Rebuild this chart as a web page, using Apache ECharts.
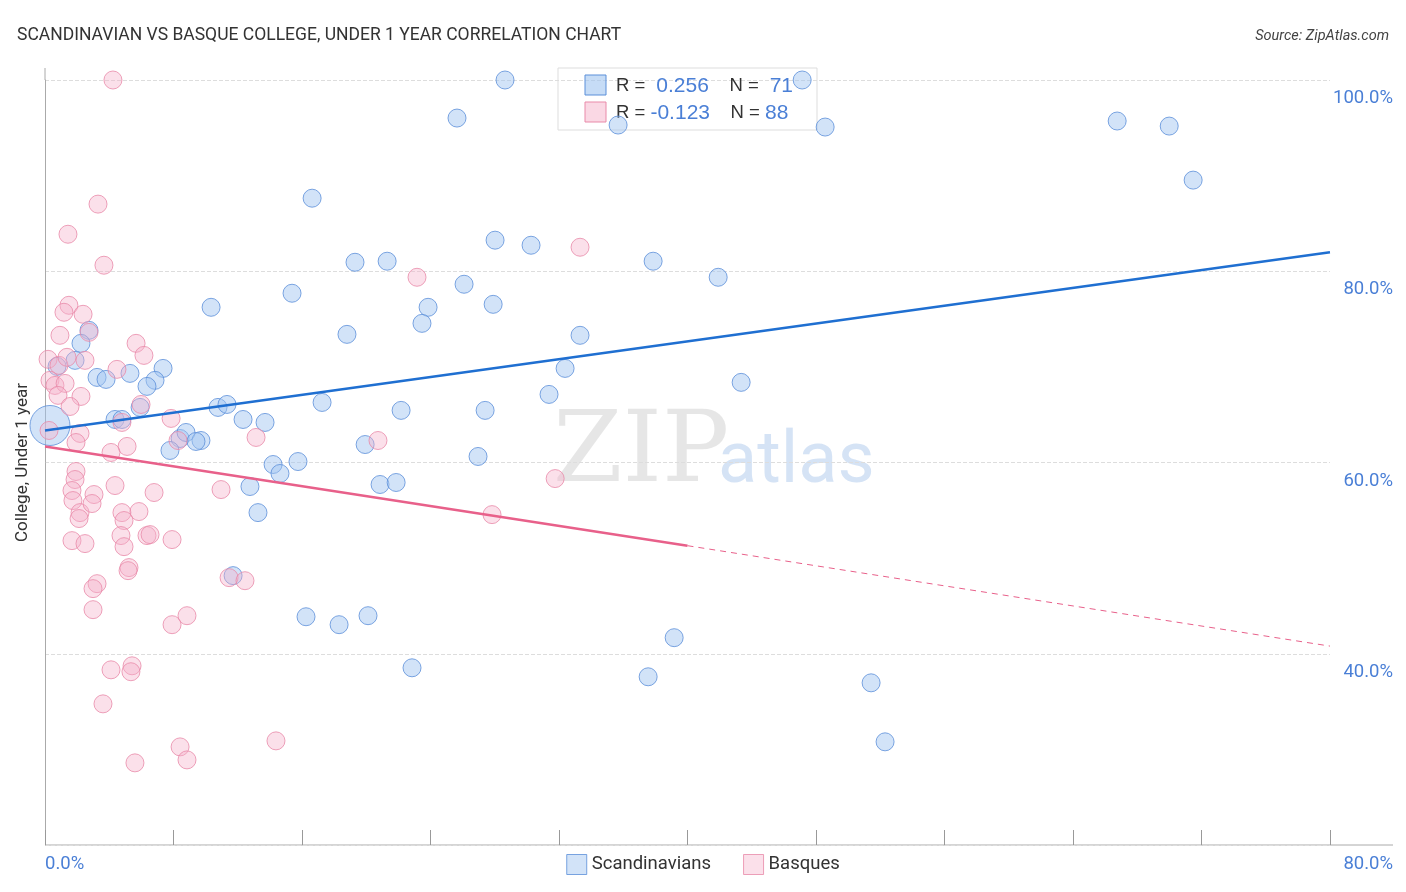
<!DOCTYPE html>
<html>
<head>
<meta charset="utf-8">
<script src="https://cdn.jsdelivr.net/npm/echarts@6/dist/echarts.min.js"></script>
<style>html,body{margin:0;padding:0;background:#fff}#main{width:1406px;height:892px}</style>
</head>
<body>
<div id="main"></div>
<script>
// 斯堪的纳维亚人 (x: %, y: %)
var scandinavians = [
	[28.64,100.0],[47.14,100.0],[25.65,96.02],[35.68,95.29],[48.57,95.08],[66.75,95.71],[69.99,95.18],[71.48,89.53],
	[16.63,87.64],[28.02,83.25],[30.26,82.72],[19.30,80.94],[21.30,81.05],[37.86,81.05],[41.91,79.37],[10.34,76.23],
	[15.38,77.70],[26.09,78.64],[27.90,76.54],[23.85,76.23],[23.47,74.55],[18.80,73.40],[33.31,73.30],[2.74,73.82],
	[2.24,72.46],[1.87,70.68],[0.75,70.05],[3.24,68.90],[3.80,68.69],[5.29,69.32],[7.35,69.84],[6.85,68.59],
	[6.35,67.96],[5.92,65.76],[10.77,65.76],[11.33,66.07],[12.33,64.50],[13.70,64.19],[22.17,65.45],[27.40,65.45],
	[17.25,66.28],[31.38,67.12],[32.38,69.84],[43.34,68.38],[4.36,64.50],[4.79,64.50],[8.41,62.51],[8.78,63.14],
	[9.71,62.30],[9.40,62.20],[7.78,61.26],[19.93,61.88],[26.96,60.63],[14.20,59.79],[15.75,60.10],[14.63,58.85],
	[12.76,57.49],[20.86,57.70],[21.86,57.91],[13.26,54.76],[11.71,48.17],[16.25,43.87],[18.31,43.04],[20.11,43.98],
	[39.17,41.68],[22.85,38.53],[37.55,37.59],[51.43,36.96],[52.30,30.79]
];
var scandinaviansBig = [[0.31,63.87]];
// 巴斯克人
var basques = [
	[4.23,100],[3.30,87.02],[1.43,83.87],[3.67,80.63],[33.31,82.51],[23.16,79.37],[1.49,76.44],[1.18,75.71],
	[2.37,75.50],[0.93,73.30],[2.74,73.61],[5.67,72.46],[6.16,71.20],[0.19,70.79],[0.87,70.16],[1.37,71.00],
	[2.49,70.68],[4.48,69.74],[0.31,68.59],[0.62,68.06],[1.25,68.27],[0.81,67.02],[2.24,66.91],[1.56,65.86],
	[5.98,66.07],[7.85,64.61],[4.79,64.19],[0.25,63.35],[2.18,63.04],[1.93,62.09],[8.28,62.30],[13.14,62.62],
	[20.73,62.30],[5.11,61.68],[4.11,61.05],[1.93,59.06],[1.87,58.22],[1.68,57.07],[1.74,56.02],[6.79,56.86],
	[10.96,57.17],[3.05,56.65],[4.36,57.59],[2.18,54.76],[2.12,54.14],[4.79,54.76],[5.85,54.87],[4.92,53.93],
	[2.93,55.71],[6.35,52.36],[4.73,52.36],[6.54,52.46],[7.91,51.94],[1.68,51.83],[2.49,51.52],[4.92,51.20],
	[5.23,49.01],[5.17,48.69],[31.76,58.32],[27.83,54.55],[3.24,47.33],[2.99,46.81],[11.46,47.96],[12.45,47.64],
	[2.99,44.61],[8.84,43.98],[7.91,43.04],[5.42,38.74],[4.11,38.32],[5.35,38.12],[3.61,34.76],[8.41,30.26],
	[8.84,28.90],[14.38,30.89],[5.60,28.59]
];
// 趋势线
var blueTrend = [[0, 63.35], [80, 81.99]];
var pinkTrendSolid = [[0, 61.68], [40, 51.3]];
var pinkTrendDashed = [[40, 51.3], [80, 40.8]];
var yTicks = [20, 40, 60, 80, 100];

var blueEdge = '#5b8fd9', blueFill = 'rgba(160,196,240,0.6)';
var pinkEdge = '#e98aa9', pinkFill = 'rgba(246,178,202,0.5)';

var myChart = echarts.init(document.getElementById('main'));
var option = {
	animation: false,
	textStyle: { fontFamily: 'Roboto, "Open Sans", sans-serif' },
	title: [{
		text: 'SCANDINAVIAN VS BASQUE COLLEGE, UNDER 1 YEAR CORRELATION CHART',
		left: 12, top: 22,
		textStyle: { fontSize: 17.5, fontWeight: 'normal', color: '#333' }
	}, {
		text: 'Source: ZipAtlas.com',
		right: 12, top: 24,
		textStyle: { fontSize: 14.5, fontWeight: 'normal', fontStyle: 'italic', color: '#444' }
	}],
	grid: { left: 45, right: 76, top: 80, bottom: 47 },
	legend: {
		bottom: 12, left: 'center', itemGap: 32,
		itemWidth: 20, itemHeight: 20,
		textStyle: { fontSize: 18.5, color: '#333' },
		data: [
			{ name: 'Scandinavians', icon: 'rect', itemStyle: { color: blueFill, borderColor: blueEdge, borderWidth: 1 } },
			{ name: 'Basques', icon: 'rect', itemStyle: { color: pinkFill, borderColor: pinkEdge, borderWidth: 1 } }
		]
	},
	xAxis: {
		type: 'value', min: 0, max: 80, interval: 8,
		axisLine: { show: false },
		axisTick: { show: true, inside: true, length: 15, lineStyle: { color: '#999' } },
		splitLine: { show: false },
		axisLabel: {
			fontSize: 18, color: '#4a7fd6', margin: 10,
			showMinLabel: true, showMaxLabel: true, alignMinLabel: 'left', alignMaxLabel: 'right',
			formatter: function (v) {
				if (v === 0) return '{l|0.0%}';
				if (v === 80) return '{r|80.0%}';
				return '';
			},
			rich: { l: { fontSize: 18.5, color: '#4a7fd6' }, r: { fontSize: 18.5, color: '#4a7fd6', padding: [0, -63, 0, 0] } }
		}
	},
	yAxis: [{
		type: 'value', min: 20, max: 100, interval: 20, position: 'left',
		name: 'College, Under 1 year', nameLocation: 'middle', nameGap: 14,
		nameTextStyle: { fontSize: 17, color: '#333' },
		axisLine: { show: true, lineStyle: { color: '#aaa' } },
		axisTick: { show: false }, axisLabel: { show: false },
		splitLine: { show: true, lineStyle: { color: '#ddd', type: 'dashed' } }
	}, {
		type: 'value', min: 20, max: 100, interval: 20, position: 'right',
		axisLine: { show: false }, axisTick: { show: false }, splitLine: { show: false },
		axisLabel: {
			fontSize: 18.5, color: '#4a7fd6', align: 'right', margin: 63, verticalAlign: 'top', padding: [9, 0, 0, 0],
			formatter: function (v) { return yTicks.indexOf(v) > 0 ? v.toFixed(1) + '%' : ''; }
		}
	}],
	graphic: [
		{ type: 'line', shape: { x1: 45, y1: 845, x2: 1393, y2: 845 }, style: { stroke: '#aaa', lineWidth: 1 } },
		{ type: 'line', shape: { x1: 45, y1: 68, x2: 45, y2: 80 }, style: { stroke: '#aaa', lineWidth: 1 } },
		{ type: 'text', left: 553, top: 405, z: -1,
			style: { text: 'ZIP', fontSize: 100, fontFamily: 'DejaVu Serif, serif', fill: 'rgba(200,200,200,0.45)' } },
		{ type: 'text', left: 718, top: 428, z: -1,
			style: { text: 'atlas', fontSize: 72, fontFamily: 'Roboto, sans-serif', fill: 'rgba(150,185,230,0.4)' } },
		{ type: 'rect', shape: { x: 558, y: 68, width: 259, height: 62 }, style: { fill: '#fff', stroke: '#ddd', lineWidth: 1 }, z: 0 },
		{ type: 'rect', shape: { x: 585, y: 75, width: 21, height: 20 }, style: { fill: blueFill, stroke: blueEdge }, z: 1 },
		{ type: 'rect', shape: { x: 585, y: 102, width: 21, height: 20 }, style: { fill: pinkFill, stroke: pinkEdge }, z: 1 },
		{ type: 'text', x: 616, y: 86, z: 1, style: {
			text: '{k|R = }{v| 0.256}{k|    N = }{v| 71}', verticalAlign: 'middle',
			rich: { k: { fontSize: 18.5, fill: '#333' }, v: { fontSize: 21, fill: '#4a7fd6' } } } },
		{ type: 'text', x: 616, y: 113, z: 1, style: {
			text: '{k|R = }{v|-0.123}{k|    N = }{v|88}', verticalAlign: 'middle',
			rich: { k: { fontSize: 18.5, fill: '#333' }, v: { fontSize: 21, fill: '#4a7fd6' } } } }
	],
	series: [{
		name: 'Scandinavians', type: 'scatter', symbolSize: 18,
		itemStyle: { color: blueFill, borderColor: blueEdge, borderWidth: 1 },
		data: scandinavians, clip: false, z: 3
	}, {
		name: 'Scandinavians', type: 'scatter', symbolSize: 40,
		itemStyle: { color: blueFill, borderColor: blueEdge, borderWidth: 1 },
		data: scandinaviansBig, clip: false, z: 3
	}, {
		name: 'Basques', type: 'scatter', symbolSize: 18,
		itemStyle: { color: pinkFill, borderColor: pinkEdge, borderWidth: 1 },
		data: basques, clip: false, z: 3
	}, {
		type: 'line', data: blueTrend, symbol: 'none', z: 5,
		lineStyle: { color: '#1f6fd1', width: 2.5 }
	}, {
		type: 'line', data: pinkTrendSolid, symbol: 'none', z: 5,
		lineStyle: { color: '#e8608a', width: 2.5 }
	}, {
		type: 'line', data: pinkTrendDashed, symbol: 'none', z: 5,
		lineStyle: { color: '#e8608a', width: 1, type: [6, 5] }
	}]
};
myChart.setOption(option);
</script>
</body>
</html>
